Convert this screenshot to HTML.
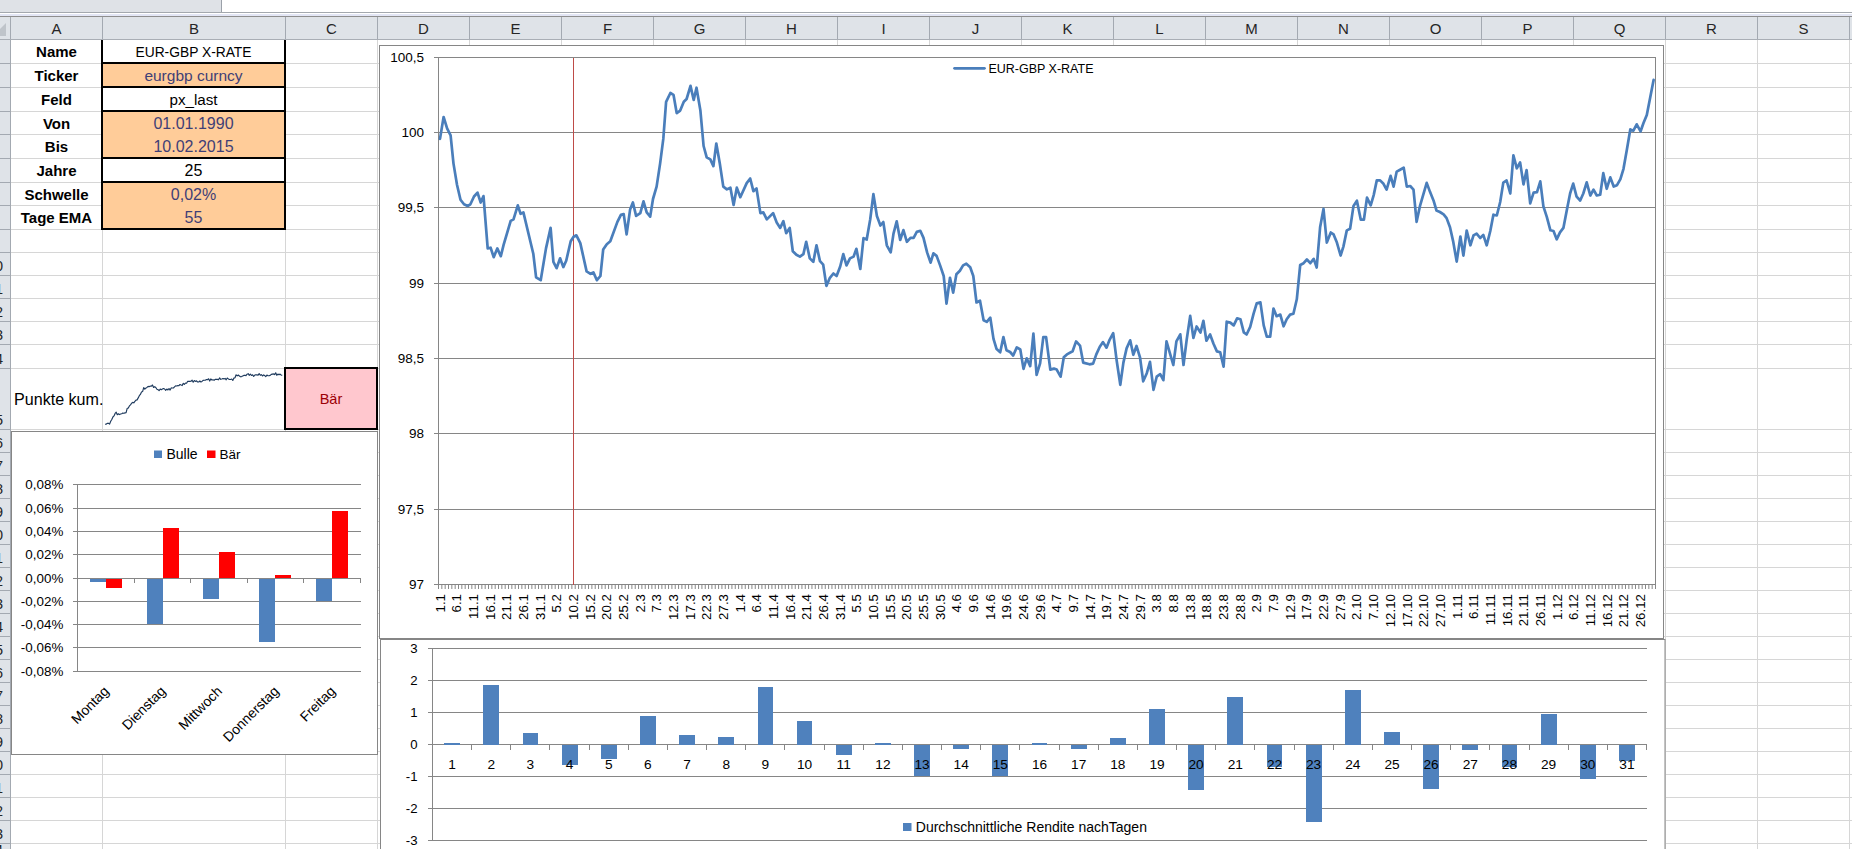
<!DOCTYPE html>
<html><head><meta charset="utf-8"><title>EUR-GBP X-RATE</title>
<style>
html,body{margin:0;padding:0;background:#fff;}
body{width:1852px;height:849px;overflow:hidden;position:relative;font-family:"Liberation Sans",sans-serif;color:#000;}
.abs{position:absolute;}
.hl{position:absolute;left:10px;width:1842px;height:1px;background:#d6d6d6;}
.vl{position:absolute;top:40px;width:1px;height:809px;background:#d6d6d6;}
.ch{position:absolute;top:17px;height:22px;line-height:24px;text-align:center;font-size:15px;color:#262626;border-right:1px solid #a3a9b1;box-sizing:border-box;}
.rh{position:absolute;left:0;width:10px;overflow:hidden;border-bottom:1px solid #a3a9b1;box-sizing:border-box;background:#dfe3e8;}
.rh span{position:absolute;right:7px;bottom:0px;font-size:14.5px;line-height:17px;color:#262626;white-space:nowrap;}
.lab{position:absolute;left:11px;width:91px;text-align:center;font-weight:bold;font-size:15px;white-space:nowrap;}
.val{position:absolute;left:103px;width:181px;text-align:center;white-space:nowrap;}
.inp{background:#ffcc99;color:#3f3f76;}
svg text{font-family:"Liberation Sans",sans-serif;}
</style></head><body>

<div class="abs" style="left:0;top:0;width:221px;height:12px;background:#dfe2e7"></div>
<div class="abs" style="left:221px;top:0;width:1px;height:12px;background:#9ba1a9"></div>
<div class="abs" style="left:0;top:12px;width:1852px;height:1px;background:#a3a8ae"></div>
<div class="abs" style="left:0;top:14px;width:1852px;height:2px;background:#e3e6f5"></div>
<div class="abs" style="left:0;top:16px;width:1852px;height:1px;background:#8e8e8e"></div>
<div class="abs" style="left:0;top:17px;width:1852px;height:22px;background:#dfe3e8"></div>
<div class="abs" style="left:0;top:39px;width:1852px;height:1px;background:#a9aeb5"></div>
<div class="ch" style="left:0;width:11px;"></div>
<svg class="abs" style="left:0;top:17px" width="10" height="22"><path d="M6 6 L6 19 L-7 19 Z" fill="#bfc4ca"/></svg>
<div class="ch" style="left:11px;width:92px;">A</div>
<div class="ch" style="left:103px;width:183px;">B</div>
<div class="ch" style="left:286px;width:92px;">C</div>
<div class="ch" style="left:378px;width:92px;">D</div>
<div class="ch" style="left:470px;width:92px;">E</div>
<div class="ch" style="left:562px;width:92px;">F</div>
<div class="ch" style="left:654px;width:92px;">G</div>
<div class="ch" style="left:746px;width:92px;">H</div>
<div class="ch" style="left:838px;width:92px;">I</div>
<div class="ch" style="left:930px;width:92px;">J</div>
<div class="ch" style="left:1022px;width:92px;">K</div>
<div class="ch" style="left:1114px;width:92px;">L</div>
<div class="ch" style="left:1206px;width:92px;">M</div>
<div class="ch" style="left:1298px;width:92px;">N</div>
<div class="ch" style="left:1390px;width:92px;">O</div>
<div class="ch" style="left:1482px;width:92px;">P</div>
<div class="ch" style="left:1574px;width:92px;">Q</div>
<div class="ch" style="left:1666px;width:92px;">R</div>
<div class="ch" style="left:1758px;width:92px;">S</div>
<div class="hl" style="top:63px"></div>
<div class="hl" style="top:87px"></div>
<div class="hl" style="top:111px"></div>
<div class="hl" style="top:134px"></div>
<div class="hl" style="top:158px"></div>
<div class="hl" style="top:182px"></div>
<div class="hl" style="top:205px"></div>
<div class="hl" style="top:229px"></div>
<div class="hl" style="top:252px"></div>
<div class="hl" style="top:275px"></div>
<div class="hl" style="top:298px"></div>
<div class="hl" style="top:321px"></div>
<div class="hl" style="top:344px"></div>
<div class="hl" style="top:368px"></div>
<div class="hl" style="top:429px"></div>
<div class="hl" style="top:452px"></div>
<div class="hl" style="top:475px"></div>
<div class="hl" style="top:498px"></div>
<div class="hl" style="top:521px"></div>
<div class="hl" style="top:544px"></div>
<div class="hl" style="top:567px"></div>
<div class="hl" style="top:590px"></div>
<div class="hl" style="top:613px"></div>
<div class="hl" style="top:636px"></div>
<div class="hl" style="top:659px"></div>
<div class="hl" style="top:682px"></div>
<div class="hl" style="top:705px"></div>
<div class="hl" style="top:728px"></div>
<div class="hl" style="top:751px"></div>
<div class="hl" style="top:774px"></div>
<div class="hl" style="top:797px"></div>
<div class="hl" style="top:820px"></div>
<div class="hl" style="top:843px"></div>
<div class="vl" style="left:102px"></div>
<div class="vl" style="left:285px"></div>
<div class="vl" style="left:377px"></div>
<div class="vl" style="left:469px"></div>
<div class="vl" style="left:561px"></div>
<div class="vl" style="left:653px"></div>
<div class="vl" style="left:745px"></div>
<div class="vl" style="left:837px"></div>
<div class="vl" style="left:929px"></div>
<div class="vl" style="left:1021px"></div>
<div class="vl" style="left:1113px"></div>
<div class="vl" style="left:1205px"></div>
<div class="vl" style="left:1297px"></div>
<div class="vl" style="left:1389px"></div>
<div class="vl" style="left:1481px"></div>
<div class="vl" style="left:1573px"></div>
<div class="vl" style="left:1665px"></div>
<div class="vl" style="left:1757px"></div>
<div class="vl" style="left:1849px"></div>
<div class="rh" style="top:40px;height:24px"><span></span></div>
<div class="rh" style="top:64px;height:24px"><span></span></div>
<div class="rh" style="top:88px;height:24px"><span></span></div>
<div class="rh" style="top:112px;height:23px"><span></span></div>
<div class="rh" style="top:135px;height:24px"><span></span></div>
<div class="rh" style="top:159px;height:24px"><span></span></div>
<div class="rh" style="top:183px;height:23px"><span></span></div>
<div class="rh" style="top:206px;height:24px"><span></span></div>
<div class="rh" style="top:230px;height:23px"><span></span></div>
<div class="rh" style="top:253px;height:23px"><span>10</span></div>
<div class="rh" style="top:276px;height:23px"><span>11</span></div>
<div class="rh" style="top:299px;height:23px"><span>12</span></div>
<div class="rh" style="top:322px;height:23px"><span>13</span></div>
<div class="rh" style="top:345px;height:24px"><span>14</span></div>
<div class="rh" style="top:369px;height:61px"><span>15</span></div>
<div class="rh" style="top:430px;height:23px"><span>16</span></div>
<div class="rh" style="top:453px;height:23px"><span>17</span></div>
<div class="rh" style="top:476px;height:23px"><span>18</span></div>
<div class="rh" style="top:499px;height:23px"><span>19</span></div>
<div class="rh" style="top:522px;height:23px"><span>20</span></div>
<div class="rh" style="top:545px;height:23px"><span>21</span></div>
<div class="rh" style="top:568px;height:23px"><span>22</span></div>
<div class="rh" style="top:591px;height:23px"><span>23</span></div>
<div class="rh" style="top:614px;height:23px"><span>24</span></div>
<div class="rh" style="top:637px;height:23px"><span>25</span></div>
<div class="rh" style="top:660px;height:23px"><span>26</span></div>
<div class="rh" style="top:683px;height:23px"><span>27</span></div>
<div class="rh" style="top:706px;height:23px"><span>28</span></div>
<div class="rh" style="top:729px;height:23px"><span>29</span></div>
<div class="rh" style="top:752px;height:23px"><span>30</span></div>
<div class="rh" style="top:775px;height:23px"><span>31</span></div>
<div class="rh" style="top:798px;height:23px"><span>32</span></div>
<div class="rh" style="top:821px;height:23px"><span>33</span></div>
<div class="rh" style="top:844px;height:16px"><span>34</span></div>
<div class="abs" style="left:10px;top:40px;width:1px;height:809px;background:#a3a9b1"></div>
<div class="lab" style="top:40px;height:23px;line-height:24px">Name</div>
<div class="lab" style="top:64px;height:23px;line-height:24px">Ticker</div>
<div class="lab" style="top:88px;height:23px;line-height:24px">Feld</div>
<div class="lab" style="top:112px;height:22px;line-height:23px">Von</div>
<div class="lab" style="top:135px;height:23px;line-height:24px">Bis</div>
<div class="lab" style="top:159px;height:23px;line-height:24px">Jahre</div>
<div class="lab" style="top:183px;height:22px;line-height:23px">Schwelle</div>
<div class="lab" style="top:206px;height:23px;line-height:24px">Tage EMA</div>
<div class="val" style="top:40px;height:24px;line-height:25px;font-size:13.8px">EUR-GBP X-RATE</div>
<div class="val inp" style="top:64px;height:24px;line-height:24px;font-size:15.5px">eurgbp curncy</div>
<div class="val" style="top:88px;height:24px;line-height:24px;font-size:15.2px">px_last</div>
<div class="val inp" style="top:112px;height:23px;line-height:23px;font-size:16px">01.01.1990</div>
<div class="val inp" style="top:135px;height:24px;line-height:24px;font-size:16px">10.02.2015</div>
<div class="val" style="top:159px;height:24px;line-height:24px;font-size:16px">25</div>
<div class="val inp" style="top:183px;height:23px;line-height:23px;font-size:16px">0,02%</div>
<div class="val inp" style="top:206px;height:24px;line-height:24px;font-size:16px">55</div>
<div class="abs" style="left:101px;top:40px;width:2px;height:190px;background:#000"></div>
<div class="abs" style="left:284px;top:40px;width:2px;height:190px;background:#000"></div>
<div class="abs" style="left:101px;top:62px;width:185px;height:2px;background:#000"></div>
<div class="abs" style="left:101px;top:86px;width:185px;height:2px;background:#000"></div>
<div class="abs" style="left:101px;top:110px;width:185px;height:2px;background:#000"></div>
<div class="abs" style="left:101px;top:157px;width:185px;height:2px;background:#000"></div>
<div class="abs" style="left:101px;top:181px;width:185px;height:2px;background:#000"></div>
<div class="abs" style="left:101px;top:228px;width:185px;height:2px;background:#000"></div>
<div class="abs" style="left:14px;top:369px;height:60px;line-height:61px;font-size:16.1px;white-space:nowrap">Punkte kum.</div>
<div class="abs" style="left:284px;top:367px;width:94px;height:63px;box-sizing:border-box;border:2px solid #000;background:#ffc7ce;color:#9c0006;text-align:center;line-height:60px;font-size:14.5px">B&auml;r</div>
<svg class="abs" style="left:0;top:0" width="1852" height="849" viewBox="0 0 1852 849">
<polyline points="105.2,424.4 106.3,424.1 107.4,423.3 108.5,423.3 109.6,424.1 110.7,421.3 111.8,419.5 112.9,417.0 114.0,415.9 115.1,413.4 116.2,412.2 117.3,414.7 118.4,413.8 119.5,414.6 120.6,414.0 121.7,413.8 122.8,413.1 123.9,413.3 125.0,412.9 126.1,412.6 127.2,408.3 128.3,408.1 129.4,405.9 130.5,404.9 131.6,403.2 132.7,402.4 133.8,402.8 134.9,401.3 136.0,400.1 137.1,399.9 138.2,397.9 139.3,395.7 140.4,394.4 141.5,392.1 142.6,391.6 143.7,387.6 144.8,389.2 145.9,388.1 147.0,387.4 148.1,386.4 149.2,386.7 150.3,386.1 151.4,386.2 152.5,385.0 153.6,387.4 154.7,386.7 155.8,387.5 156.9,389.2 158.0,389.6 159.1,390.7 160.2,389.0 161.3,389.7 162.4,389.0 163.5,388.5 164.6,389.0 165.7,390.3 166.8,389.0 167.9,390.0 169.0,388.5 170.1,390.1 171.2,387.9 172.3,388.0 173.4,388.0 174.5,386.9 175.6,385.8 176.7,386.0 177.8,385.6 178.9,385.7 180.0,384.5 181.1,385.1 182.2,385.6 183.3,383.3 184.4,384.4 185.5,383.0 186.6,383.2 187.7,381.3 188.8,381.3 189.9,381.4 191.0,381.2 192.1,380.2 193.2,382.2 194.3,380.5 195.4,381.4 196.5,380.8 197.6,382.0 198.7,382.0 199.8,381.0 200.9,382.0 202.0,381.4 203.1,380.4 204.2,380.2 205.3,380.2 206.4,379.6 207.5,379.7 208.6,378.8 209.7,381.1 210.8,378.9 211.9,380.0 213.0,379.8 214.1,380.3 215.2,379.4 216.3,379.3 217.4,379.4 218.5,379.8 219.6,377.9 220.7,379.3 221.8,379.0 222.9,378.5 224.0,378.9 225.1,378.4 226.2,379.8 227.3,378.0 228.4,378.9 229.5,379.5 230.6,379.5 231.7,379.0 232.8,380.5 233.9,378.1 235.0,377.7 236.1,374.8 237.2,375.9 238.3,375.0 239.4,376.0 240.5,376.8 241.6,376.6 242.7,376.0 243.8,375.4 244.9,375.2 246.0,375.6 247.1,374.2 248.2,373.7 249.3,375.3 250.4,374.1 251.5,375.5 252.6,374.8 253.7,376.5 254.8,375.0 255.9,374.7 257.0,374.9 258.1,375.2 259.2,373.6 260.3,375.3 261.4,374.7 262.5,376.0 263.6,374.9 264.7,375.6 265.8,376.6 266.9,375.0 268.0,375.7 269.1,375.7 270.2,375.4 271.3,374.4 272.4,374.1 273.5,373.9 274.6,374.6 275.7,372.8 276.8,375.3 277.9,374.0 279.0,374.8 280.1,374.1 281.2,375.2 282.3,375.3" fill="none" stroke="#1f3b5e" stroke-width="1.15" stroke-linejoin="round"/>
<rect x="379.5" y="45.5" width="1284" height="593" fill="#fff" stroke="#868686" stroke-width="1"/>
<g stroke="#868686" stroke-width="1" shape-rendering="crispEdges">
<line x1="433.5" y1="57.5" x2="1655.5" y2="57.5"/>
<line x1="433.5" y1="132.5" x2="1655.5" y2="132.5"/>
<line x1="433.5" y1="207.5" x2="1655.5" y2="207.5"/>
<line x1="433.5" y1="283.5" x2="1655.5" y2="283.5"/>
<line x1="433.5" y1="358.5" x2="1655.5" y2="358.5"/>
<line x1="433.5" y1="433.5" x2="1655.5" y2="433.5"/>
<line x1="433.5" y1="509.5" x2="1655.5" y2="509.5"/>
<line x1="433.5" y1="584.5" x2="1655.5" y2="584.5"/>
<line x1="438.5" y1="57.5" x2="438.5" y2="584.5"/>
<line x1="1655.5" y1="57.5" x2="1655.5" y2="584.5"/>
</g>
<path d="M438.50 584.5v4.5M441.83 584.5v4.5M445.17 584.5v4.5M448.50 584.5v4.5M451.84 584.5v4.5M455.17 584.5v4.5M458.51 584.5v4.5M461.84 584.5v4.5M465.17 584.5v4.5M468.51 584.5v4.5M471.84 584.5v4.5M475.18 584.5v4.5M478.51 584.5v4.5M481.85 584.5v4.5M485.18 584.5v4.5M488.51 584.5v4.5M491.85 584.5v4.5M495.18 584.5v4.5M498.52 584.5v4.5M501.85 584.5v4.5M505.18 584.5v4.5M508.52 584.5v4.5M511.85 584.5v4.5M515.19 584.5v4.5M518.52 584.5v4.5M521.86 584.5v4.5M525.19 584.5v4.5M528.52 584.5v4.5M531.86 584.5v4.5M535.19 584.5v4.5M538.53 584.5v4.5M541.86 584.5v4.5M545.20 584.5v4.5M548.53 584.5v4.5M551.86 584.5v4.5M555.20 584.5v4.5M558.53 584.5v4.5M561.87 584.5v4.5M565.20 584.5v4.5M568.54 584.5v4.5M571.87 584.5v4.5M575.20 584.5v4.5M578.54 584.5v4.5M581.87 584.5v4.5M585.21 584.5v4.5M588.54 584.5v4.5M591.88 584.5v4.5M595.21 584.5v4.5M598.54 584.5v4.5M601.88 584.5v4.5M605.21 584.5v4.5M608.55 584.5v4.5M611.88 584.5v4.5M615.22 584.5v4.5M618.55 584.5v4.5M621.88 584.5v4.5M625.22 584.5v4.5M628.55 584.5v4.5M631.89 584.5v4.5M635.22 584.5v4.5M638.55 584.5v4.5M641.89 584.5v4.5M645.22 584.5v4.5M648.56 584.5v4.5M651.89 584.5v4.5M655.23 584.5v4.5M658.56 584.5v4.5M661.89 584.5v4.5M665.23 584.5v4.5M668.56 584.5v4.5M671.90 584.5v4.5M675.23 584.5v4.5M678.57 584.5v4.5M681.90 584.5v4.5M685.23 584.5v4.5M688.57 584.5v4.5M691.90 584.5v4.5M695.24 584.5v4.5M698.57 584.5v4.5M701.91 584.5v4.5M705.24 584.5v4.5M708.57 584.5v4.5M711.91 584.5v4.5M715.24 584.5v4.5M718.58 584.5v4.5M721.91 584.5v4.5M725.25 584.5v4.5M728.58 584.5v4.5M731.91 584.5v4.5M735.25 584.5v4.5M738.58 584.5v4.5M741.92 584.5v4.5M745.25 584.5v4.5M748.58 584.5v4.5M751.92 584.5v4.5M755.25 584.5v4.5M758.59 584.5v4.5M761.92 584.5v4.5M765.26 584.5v4.5M768.59 584.5v4.5M771.92 584.5v4.5M775.26 584.5v4.5M778.59 584.5v4.5M781.93 584.5v4.5M785.26 584.5v4.5M788.60 584.5v4.5M791.93 584.5v4.5M795.26 584.5v4.5M798.60 584.5v4.5M801.93 584.5v4.5M805.27 584.5v4.5M808.60 584.5v4.5M811.94 584.5v4.5M815.27 584.5v4.5M818.60 584.5v4.5M821.94 584.5v4.5M825.27 584.5v4.5M828.61 584.5v4.5M831.94 584.5v4.5M835.28 584.5v4.5M838.61 584.5v4.5M841.94 584.5v4.5M845.28 584.5v4.5M848.61 584.5v4.5M851.95 584.5v4.5M855.28 584.5v4.5M858.62 584.5v4.5M861.95 584.5v4.5M865.28 584.5v4.5M868.62 584.5v4.5M871.95 584.5v4.5M875.29 584.5v4.5M878.62 584.5v4.5M881.95 584.5v4.5M885.29 584.5v4.5M888.62 584.5v4.5M891.96 584.5v4.5M895.29 584.5v4.5M898.63 584.5v4.5M901.96 584.5v4.5M905.29 584.5v4.5M908.63 584.5v4.5M911.96 584.5v4.5M915.30 584.5v4.5M918.63 584.5v4.5M921.97 584.5v4.5M925.30 584.5v4.5M928.63 584.5v4.5M931.97 584.5v4.5M935.30 584.5v4.5M938.64 584.5v4.5M941.97 584.5v4.5M945.31 584.5v4.5M948.64 584.5v4.5M951.97 584.5v4.5M955.31 584.5v4.5M958.64 584.5v4.5M961.98 584.5v4.5M965.31 584.5v4.5M968.65 584.5v4.5M971.98 584.5v4.5M975.31 584.5v4.5M978.65 584.5v4.5M981.98 584.5v4.5M985.32 584.5v4.5M988.65 584.5v4.5M991.98 584.5v4.5M995.32 584.5v4.5M998.65 584.5v4.5M1001.99 584.5v4.5M1005.32 584.5v4.5M1008.66 584.5v4.5M1011.99 584.5v4.5M1015.32 584.5v4.5M1018.66 584.5v4.5M1021.99 584.5v4.5M1025.33 584.5v4.5M1028.66 584.5v4.5M1032.00 584.5v4.5M1035.33 584.5v4.5M1038.66 584.5v4.5M1042.00 584.5v4.5M1045.33 584.5v4.5M1048.67 584.5v4.5M1052.00 584.5v4.5M1055.34 584.5v4.5M1058.67 584.5v4.5M1062.00 584.5v4.5M1065.34 584.5v4.5M1068.67 584.5v4.5M1072.01 584.5v4.5M1075.34 584.5v4.5M1078.68 584.5v4.5M1082.01 584.5v4.5M1085.34 584.5v4.5M1088.68 584.5v4.5M1092.01 584.5v4.5M1095.35 584.5v4.5M1098.68 584.5v4.5M1102.02 584.5v4.5M1105.35 584.5v4.5M1108.68 584.5v4.5M1112.02 584.5v4.5M1115.35 584.5v4.5M1118.69 584.5v4.5M1122.02 584.5v4.5M1125.35 584.5v4.5M1128.69 584.5v4.5M1132.02 584.5v4.5M1135.36 584.5v4.5M1138.69 584.5v4.5M1142.03 584.5v4.5M1145.36 584.5v4.5M1148.69 584.5v4.5M1152.03 584.5v4.5M1155.36 584.5v4.5M1158.70 584.5v4.5M1162.03 584.5v4.5M1165.37 584.5v4.5M1168.70 584.5v4.5M1172.03 584.5v4.5M1175.37 584.5v4.5M1178.70 584.5v4.5M1182.04 584.5v4.5M1185.37 584.5v4.5M1188.71 584.5v4.5M1192.04 584.5v4.5M1195.37 584.5v4.5M1198.71 584.5v4.5M1202.04 584.5v4.5M1205.38 584.5v4.5M1208.71 584.5v4.5M1212.05 584.5v4.5M1215.38 584.5v4.5M1218.71 584.5v4.5M1222.05 584.5v4.5M1225.38 584.5v4.5M1228.72 584.5v4.5M1232.05 584.5v4.5M1235.38 584.5v4.5M1238.72 584.5v4.5M1242.05 584.5v4.5M1245.39 584.5v4.5M1248.72 584.5v4.5M1252.06 584.5v4.5M1255.39 584.5v4.5M1258.72 584.5v4.5M1262.06 584.5v4.5M1265.39 584.5v4.5M1268.73 584.5v4.5M1272.06 584.5v4.5M1275.40 584.5v4.5M1278.73 584.5v4.5M1282.06 584.5v4.5M1285.40 584.5v4.5M1288.73 584.5v4.5M1292.07 584.5v4.5M1295.40 584.5v4.5M1298.74 584.5v4.5M1302.07 584.5v4.5M1305.40 584.5v4.5M1308.74 584.5v4.5M1312.07 584.5v4.5M1315.41 584.5v4.5M1318.74 584.5v4.5M1322.08 584.5v4.5M1325.41 584.5v4.5M1328.74 584.5v4.5M1332.08 584.5v4.5M1335.41 584.5v4.5M1338.75 584.5v4.5M1342.08 584.5v4.5M1345.42 584.5v4.5M1348.75 584.5v4.5M1352.08 584.5v4.5M1355.42 584.5v4.5M1358.75 584.5v4.5M1362.09 584.5v4.5M1365.42 584.5v4.5M1368.75 584.5v4.5M1372.09 584.5v4.5M1375.42 584.5v4.5M1378.76 584.5v4.5M1382.09 584.5v4.5M1385.43 584.5v4.5M1388.76 584.5v4.5M1392.09 584.5v4.5M1395.43 584.5v4.5M1398.76 584.5v4.5M1402.10 584.5v4.5M1405.43 584.5v4.5M1408.77 584.5v4.5M1412.10 584.5v4.5M1415.43 584.5v4.5M1418.77 584.5v4.5M1422.10 584.5v4.5M1425.44 584.5v4.5M1428.77 584.5v4.5M1432.11 584.5v4.5M1435.44 584.5v4.5M1438.77 584.5v4.5M1442.11 584.5v4.5M1445.44 584.5v4.5M1448.78 584.5v4.5M1452.11 584.5v4.5M1455.45 584.5v4.5M1458.78 584.5v4.5M1462.11 584.5v4.5M1465.45 584.5v4.5M1468.78 584.5v4.5M1472.12 584.5v4.5M1475.45 584.5v4.5M1478.78 584.5v4.5M1482.12 584.5v4.5M1485.45 584.5v4.5M1488.79 584.5v4.5M1492.12 584.5v4.5M1495.46 584.5v4.5M1498.79 584.5v4.5M1502.12 584.5v4.5M1505.46 584.5v4.5M1508.79 584.5v4.5M1512.13 584.5v4.5M1515.46 584.5v4.5M1518.80 584.5v4.5M1522.13 584.5v4.5M1525.46 584.5v4.5M1528.80 584.5v4.5M1532.13 584.5v4.5M1535.47 584.5v4.5M1538.80 584.5v4.5M1542.14 584.5v4.5M1545.47 584.5v4.5M1548.80 584.5v4.5M1552.14 584.5v4.5M1555.47 584.5v4.5M1558.81 584.5v4.5M1562.14 584.5v4.5M1565.48 584.5v4.5M1568.81 584.5v4.5M1572.14 584.5v4.5M1575.48 584.5v4.5M1578.81 584.5v4.5M1582.15 584.5v4.5M1585.48 584.5v4.5M1588.82 584.5v4.5M1592.15 584.5v4.5M1595.48 584.5v4.5M1598.82 584.5v4.5M1602.15 584.5v4.5M1605.49 584.5v4.5M1608.82 584.5v4.5M1612.15 584.5v4.5M1615.49 584.5v4.5M1618.82 584.5v4.5M1622.16 584.5v4.5M1625.49 584.5v4.5M1628.83 584.5v4.5M1632.16 584.5v4.5M1635.49 584.5v4.5M1638.83 584.5v4.5M1642.16 584.5v4.5M1645.50 584.5v4.5M1648.83 584.5v4.5M1652.17 584.5v4.5M1655.50 584.5v4.5" stroke="#868686" stroke-width="1" fill="none"/>
<text x="424" y="62.1" font-size="13.5" text-anchor="end">100,5</text>
<text x="424" y="137.1" font-size="13.5" text-anchor="end">100</text>
<text x="424" y="212.1" font-size="13.5" text-anchor="end">99,5</text>
<text x="424" y="288.1" font-size="13.5" text-anchor="end">99</text>
<text x="424" y="363.1" font-size="13.5" text-anchor="end">98,5</text>
<text x="424" y="438.1" font-size="13.5" text-anchor="end">98</text>
<text x="424" y="514.1" font-size="13.5" text-anchor="end">97,5</text>
<text x="424" y="589.1" font-size="13.5" text-anchor="end">97</text>
<line x1="573.5" y1="57.5" x2="573.5" y2="584.5" stroke="#be4b48" stroke-width="1" shape-rendering="crispEdges"/>
<text transform="translate(444.57,594) rotate(-90)" font-size="13.3" text-anchor="end">1.1</text>
<text transform="translate(461.24,594) rotate(-90)" font-size="13.3" text-anchor="end">6.1</text>
<text transform="translate(477.91,594) rotate(-90)" font-size="13.3" text-anchor="end">11.1</text>
<text transform="translate(494.58,594) rotate(-90)" font-size="13.3" text-anchor="end">16.1</text>
<text transform="translate(511.25,594) rotate(-90)" font-size="13.3" text-anchor="end">21.1</text>
<text transform="translate(527.92,594) rotate(-90)" font-size="13.3" text-anchor="end">26.1</text>
<text transform="translate(544.59,594) rotate(-90)" font-size="13.3" text-anchor="end">31.1</text>
<text transform="translate(561.27,594) rotate(-90)" font-size="13.3" text-anchor="end">5.2</text>
<text transform="translate(577.94,594) rotate(-90)" font-size="13.3" text-anchor="end">10.2</text>
<text transform="translate(594.61,594) rotate(-90)" font-size="13.3" text-anchor="end">15.2</text>
<text transform="translate(611.28,594) rotate(-90)" font-size="13.3" text-anchor="end">20.2</text>
<text transform="translate(627.95,594) rotate(-90)" font-size="13.3" text-anchor="end">25.2</text>
<text transform="translate(644.62,594) rotate(-90)" font-size="13.3" text-anchor="end">2.3</text>
<text transform="translate(661.29,594) rotate(-90)" font-size="13.3" text-anchor="end">7.3</text>
<text transform="translate(677.96,594) rotate(-90)" font-size="13.3" text-anchor="end">12.3</text>
<text transform="translate(694.64,594) rotate(-90)" font-size="13.3" text-anchor="end">17.3</text>
<text transform="translate(711.31,594) rotate(-90)" font-size="13.3" text-anchor="end">22.3</text>
<text transform="translate(727.98,594) rotate(-90)" font-size="13.3" text-anchor="end">27.3</text>
<text transform="translate(744.65,594) rotate(-90)" font-size="13.3" text-anchor="end">1.4</text>
<text transform="translate(761.32,594) rotate(-90)" font-size="13.3" text-anchor="end">6.4</text>
<text transform="translate(777.99,594) rotate(-90)" font-size="13.3" text-anchor="end">11.4</text>
<text transform="translate(794.66,594) rotate(-90)" font-size="13.3" text-anchor="end">16.4</text>
<text transform="translate(811.33,594) rotate(-90)" font-size="13.3" text-anchor="end">21.4</text>
<text transform="translate(828.01,594) rotate(-90)" font-size="13.3" text-anchor="end">26.4</text>
<text transform="translate(844.68,594) rotate(-90)" font-size="13.3" text-anchor="end">31.4</text>
<text transform="translate(861.35,594) rotate(-90)" font-size="13.3" text-anchor="end">5.5</text>
<text transform="translate(878.02,594) rotate(-90)" font-size="13.3" text-anchor="end">10.5</text>
<text transform="translate(894.69,594) rotate(-90)" font-size="13.3" text-anchor="end">15.5</text>
<text transform="translate(911.36,594) rotate(-90)" font-size="13.3" text-anchor="end">20.5</text>
<text transform="translate(928.03,594) rotate(-90)" font-size="13.3" text-anchor="end">25.5</text>
<text transform="translate(944.70,594) rotate(-90)" font-size="13.3" text-anchor="end">30.5</text>
<text transform="translate(961.38,594) rotate(-90)" font-size="13.3" text-anchor="end">4.6</text>
<text transform="translate(978.05,594) rotate(-90)" font-size="13.3" text-anchor="end">9.6</text>
<text transform="translate(994.72,594) rotate(-90)" font-size="13.3" text-anchor="end">14.6</text>
<text transform="translate(1011.39,594) rotate(-90)" font-size="13.3" text-anchor="end">19.6</text>
<text transform="translate(1028.06,594) rotate(-90)" font-size="13.3" text-anchor="end">24.6</text>
<text transform="translate(1044.73,594) rotate(-90)" font-size="13.3" text-anchor="end">29.6</text>
<text transform="translate(1061.40,594) rotate(-90)" font-size="13.3" text-anchor="end">4.7</text>
<text transform="translate(1078.07,594) rotate(-90)" font-size="13.3" text-anchor="end">9.7</text>
<text transform="translate(1094.75,594) rotate(-90)" font-size="13.3" text-anchor="end">14.7</text>
<text transform="translate(1111.42,594) rotate(-90)" font-size="13.3" text-anchor="end">19.7</text>
<text transform="translate(1128.09,594) rotate(-90)" font-size="13.3" text-anchor="end">24.7</text>
<text transform="translate(1144.76,594) rotate(-90)" font-size="13.3" text-anchor="end">29.7</text>
<text transform="translate(1161.43,594) rotate(-90)" font-size="13.3" text-anchor="end">3.8</text>
<text transform="translate(1178.10,594) rotate(-90)" font-size="13.3" text-anchor="end">8.8</text>
<text transform="translate(1194.77,594) rotate(-90)" font-size="13.3" text-anchor="end">13.8</text>
<text transform="translate(1211.44,594) rotate(-90)" font-size="13.3" text-anchor="end">18.8</text>
<text transform="translate(1228.12,594) rotate(-90)" font-size="13.3" text-anchor="end">23.8</text>
<text transform="translate(1244.79,594) rotate(-90)" font-size="13.3" text-anchor="end">28.8</text>
<text transform="translate(1261.46,594) rotate(-90)" font-size="13.3" text-anchor="end">2.9</text>
<text transform="translate(1278.13,594) rotate(-90)" font-size="13.3" text-anchor="end">7.9</text>
<text transform="translate(1294.80,594) rotate(-90)" font-size="13.3" text-anchor="end">12.9</text>
<text transform="translate(1311.47,594) rotate(-90)" font-size="13.3" text-anchor="end">17.9</text>
<text transform="translate(1328.14,594) rotate(-90)" font-size="13.3" text-anchor="end">22.9</text>
<text transform="translate(1344.81,594) rotate(-90)" font-size="13.3" text-anchor="end">27.9</text>
<text transform="translate(1361.48,594) rotate(-90)" font-size="13.3" text-anchor="end">2.10</text>
<text transform="translate(1378.16,594) rotate(-90)" font-size="13.3" text-anchor="end">7.10</text>
<text transform="translate(1394.83,594) rotate(-90)" font-size="13.3" text-anchor="end">12.10</text>
<text transform="translate(1411.50,594) rotate(-90)" font-size="13.3" text-anchor="end">17.10</text>
<text transform="translate(1428.17,594) rotate(-90)" font-size="13.3" text-anchor="end">22.10</text>
<text transform="translate(1444.84,594) rotate(-90)" font-size="13.3" text-anchor="end">27.10</text>
<text transform="translate(1461.51,594) rotate(-90)" font-size="13.3" text-anchor="end">1.11</text>
<text transform="translate(1478.18,594) rotate(-90)" font-size="13.3" text-anchor="end">6.11</text>
<text transform="translate(1494.85,594) rotate(-90)" font-size="13.3" text-anchor="end">11.11</text>
<text transform="translate(1511.53,594) rotate(-90)" font-size="13.3" text-anchor="end">16.11</text>
<text transform="translate(1528.20,594) rotate(-90)" font-size="13.3" text-anchor="end">21.11</text>
<text transform="translate(1544.87,594) rotate(-90)" font-size="13.3" text-anchor="end">26.11</text>
<text transform="translate(1561.54,594) rotate(-90)" font-size="13.3" text-anchor="end">1.12</text>
<text transform="translate(1578.21,594) rotate(-90)" font-size="13.3" text-anchor="end">6.12</text>
<text transform="translate(1594.88,594) rotate(-90)" font-size="13.3" text-anchor="end">11.12</text>
<text transform="translate(1611.55,594) rotate(-90)" font-size="13.3" text-anchor="end">16.12</text>
<text transform="translate(1628.22,594) rotate(-90)" font-size="13.3" text-anchor="end">21.12</text>
<text transform="translate(1644.90,594) rotate(-90)" font-size="13.3" text-anchor="end">26.12</text>
<polyline points="440.0,138.9 443.6,117 447.1,128.3 450.6,135.4 453.5,163.6 457,184.8 460.5,199.7 464,204.3 467.6,206 470.4,204.3 474,196.5 477.5,192.6 480.7,202.5 483.5,196.1 487.7,248.4 490.6,247.7 493.7,257.2 497.3,248.4 500.8,256.2 503.6,244.9 510.7,220.9 513.5,219.4 517.8,205.3 520.6,213.8 523.4,212.4 533.3,253.7 536.1,277.4 540.7,280.2 546,248.4 550.6,227.9 553.4,261.8 556.6,268.2 560.1,258.3 563.3,267.1 566.2,260.8 570.7,241.3 573.6,236.7 576.4,235.3 580.3,243.1 586.6,271.4 590.5,273.8 593.4,272.4 596.9,280.2 600.4,276 603.2,249.5 606.8,244.2 610.3,241.3 617.4,221.9 620.9,214.8 623.7,214.1 626.6,234.3 630.1,209.6 632.9,202.5 636.1,215.9 640.3,213.1 643.5,201.4 646.7,212.4 650.2,216.6 653,199 656.6,186.6 660.1,163.6 663.3,138.9 666.1,101.8 670.4,93 673.5,94.8 676.7,113.1 680.2,110.6 683.8,101.8 686.6,99 690.5,85.9 693.7,100 696.5,87.7 700.4,110.6 703.6,146 706.7,157.3 710.3,159.4 713.4,166.1 716.3,143.5 719.8,163.6 723.3,186.6 726.9,189.4 730.4,187.7 733.6,205 736.8,187.7 740.3,197.2 746.7,183.1 750.2,178.5 753.4,191.2 756.5,188.4 760.4,213.1 763.3,212.4 766.8,219.4 773.1,213.1 776.7,222.6 780.2,227.9 783.4,221.2 786.2,233.2 789.7,227.9 792.8,251.3 796.4,254.8 799.9,256.6 803.4,254.1 806.2,241.8 809.8,258.4 813.3,261.9 816.5,245.3 820,261.2 823.2,264.7 826.4,285.9 829.9,277.8 833.4,273.5 836.6,276 840.2,266.5 843.3,254.1 846.5,265.4 850,258.4 853.6,256.6 856.4,248.8 860.3,269 863.5,238.2 866.7,239.6 870.2,219.5 873.4,194.1 876.9,216 880.4,225.5 883.3,222 886.8,245.3 890.7,252.4 893.5,233.6 896.7,221.3 900.2,240 903.4,230.1 906.9,241.8 910.5,237.9 913.6,237.9 916.8,231.9 920.3,230.8 923.5,237.9 927.1,252.4 930.6,262.6 933.4,253.4 936.6,255.9 940.1,265.4 943.7,276 946.5,303.6 950,277.8 953.2,292.6 956.4,274.3 959.9,270.7 963.1,265.4 966.3,263.7 970.2,267.2 973.3,276 976.5,302.5 980,300.7 983.6,320.2 986.8,321.9 990.3,317.7 993.5,338.9 996.6,349.1 1000.2,352.3 1003.4,337.1 1006.5,350.2 1010.1,352 1013.2,355.5 1016.8,347.4 1020.3,349.5 1023.5,368.9 1026.7,358.3 1030.2,366.1 1033.4,333.6 1036.6,374.9 1040.1,363.3 1043.3,337.1 1046.1,337.1 1050.3,369.6 1053.9,368.6 1056.7,369.6 1060.6,376.7 1063.8,357.3 1066.9,354.4 1072.6,351.3 1076.1,341.4 1080,345.6 1083.2,362.6 1089.5,364.3 1093.1,363.6 1096.3,354.4 1099.8,346.7 1103,342.1 1106.5,347.7 1109.7,339.6 1113.2,333.2 1116.7,360.8 1120.3,384.8 1123.4,362.6 1126.6,348.4 1130.2,340.3 1133.3,354.8 1136.5,346 1140,357.3 1143.2,381.3 1146.8,373.2 1150,361.9 1153.5,389.8 1156.7,376.7 1160.2,374.2 1163.4,380.2 1166.5,341.4 1173.3,365 1176.4,341.4 1180.3,334.3 1183.5,365 1186.7,339.6 1190.2,315.9 1193.4,337.8 1196.6,326.5 1200.5,332.5 1203.4,320.8 1206.4,340.7 1210.1,334.5 1213.5,343.7 1216.9,351.4 1220.2,352.3 1223.6,366.7 1226.7,321.7 1230.3,322.6 1233.7,325.4 1237.1,318.3 1240.4,319.2 1243.8,332.4 1246.6,334.5 1250.2,326.9 1253.6,313.7 1256.7,303.3 1260.4,302.4 1263.7,325.4 1266.8,336.7 1270.2,336.7 1273.5,308.5 1276.6,316.2 1280.3,314.6 1283.6,326.3 1286.7,319.2 1290.1,314.6 1293.4,313.7 1296.8,299.3 1300.2,265 1303.6,263.2 1306.9,259.5 1310.3,263.2 1313.7,258.9 1316.7,267.5 1320.1,227.3 1323.5,208.9 1326.8,242.6 1330.8,232.5 1333.6,234.4 1336.9,242.6 1340.6,255.5 1343.4,246.6 1346.8,230.4 1350.1,228.8 1353.5,205.9 1356.9,200.7 1360.8,219.7 1363.9,219.7 1367,197.6 1370.7,205.3 1373.7,195.1 1376.8,180.4 1380.1,180.4 1383.5,183.8 1386.6,189.6 1390.6,175.8 1393.6,186.6 1396.7,171.6 1400.1,169.7 1403.7,167.6 1406.8,186.6 1410.2,186 1413.5,189.6 1416.6,221.8 1420,205.9 1426.7,182.9 1430.1,192.1 1433.5,200.4 1436.5,210.5 1439.9,212 1443.6,214.4 1446.6,218.1 1450,227.3 1453.1,241.1 1456.7,261.6 1460.4,236.5 1463.4,255.6 1466.7,230.5 1470.4,245.3 1473.5,235.4 1476.6,233.6 1480.2,238 1483.3,234.9 1486.7,245.3 1490.3,231 1493.4,214.7 1496.8,215.5 1500.2,202 1503.3,182.6 1506.6,180.5 1510.3,193.5 1513.4,155.4 1516.8,168.3 1520.1,162.4 1523.5,184.4 1526.6,170.1 1530.2,203.3 1533.6,192.7 1537,192.2 1540.3,181.3 1543.4,206.4 1546.8,216.8 1550.4,230.3 1553.5,231 1556.7,239.3 1560,232.3 1563.4,227.9 1566.8,210.3 1570.1,193.5 1573.2,183.6 1576.6,196.6 1580.2,200.5 1583.3,193.5 1586.7,182.3 1590.3,195.5 1593.5,189.6 1596.8,195.5 1600.2,194.8 1603.3,173.2 1606.7,188.8 1610.3,177.4 1613.7,186.5 1617,185.2 1620.4,179.2 1623.5,168.8 1626.9,149.4 1630.3,129.4 1633.4,130.7 1636.7,124.3 1640.6,131.3 1643.5,123 1646.8,114.9 1650.2,97.6 1653.6,79.9" fill="none" stroke="#4a7ebb" stroke-width="2.7" stroke-linejoin="round" stroke-linecap="round"/>
<line x1="954.5" y1="68.3" x2="984.5" y2="68.3" stroke="#4a7ebb" stroke-width="2.7" stroke-linecap="round"/>
<text x="988.4" y="72.6" font-size="12.5">EUR-GBP X-RATE</text>
<rect x="380.5" y="639.5" width="1284.5" height="230" fill="#fff" stroke="#868686" stroke-width="1"/>
<g stroke="#868686" stroke-width="1" shape-rendering="crispEdges">
<line x1="427.5" y1="648.5" x2="1646.5" y2="648.5"/>
<line x1="427.5" y1="680.5" x2="1646.5" y2="680.5"/>
<line x1="427.5" y1="712.5" x2="1646.5" y2="712.5"/>
<line x1="427.5" y1="744.5" x2="1646.5" y2="744.5"/>
<line x1="427.5" y1="776.5" x2="1646.5" y2="776.5"/>
<line x1="427.5" y1="808.5" x2="1646.5" y2="808.5"/>
<line x1="427.5" y1="840.5" x2="1646.5" y2="840.5"/>
<line x1="432.5" y1="648.5" x2="432.5" y2="840.5"/>
<line x1="471.5" y1="744.5" x2="471.5" y2="749.5"/>
<line x1="510.5" y1="744.5" x2="510.5" y2="749.5"/>
<line x1="549.5" y1="744.5" x2="549.5" y2="749.5"/>
<line x1="589.5" y1="744.5" x2="589.5" y2="749.5"/>
<line x1="628.5" y1="744.5" x2="628.5" y2="749.5"/>
<line x1="667.5" y1="744.5" x2="667.5" y2="749.5"/>
<line x1="706.5" y1="744.5" x2="706.5" y2="749.5"/>
<line x1="745.5" y1="744.5" x2="745.5" y2="749.5"/>
<line x1="784.5" y1="744.5" x2="784.5" y2="749.5"/>
<line x1="824.5" y1="744.5" x2="824.5" y2="749.5"/>
<line x1="863.5" y1="744.5" x2="863.5" y2="749.5"/>
<line x1="902.5" y1="744.5" x2="902.5" y2="749.5"/>
<line x1="941.5" y1="744.5" x2="941.5" y2="749.5"/>
<line x1="980.5" y1="744.5" x2="980.5" y2="749.5"/>
<line x1="1019.5" y1="744.5" x2="1019.5" y2="749.5"/>
<line x1="1059.5" y1="744.5" x2="1059.5" y2="749.5"/>
<line x1="1098.5" y1="744.5" x2="1098.5" y2="749.5"/>
<line x1="1137.5" y1="744.5" x2="1137.5" y2="749.5"/>
<line x1="1176.5" y1="744.5" x2="1176.5" y2="749.5"/>
<line x1="1215.5" y1="744.5" x2="1215.5" y2="749.5"/>
<line x1="1254.5" y1="744.5" x2="1254.5" y2="749.5"/>
<line x1="1294.5" y1="744.5" x2="1294.5" y2="749.5"/>
<line x1="1333.5" y1="744.5" x2="1333.5" y2="749.5"/>
<line x1="1372.5" y1="744.5" x2="1372.5" y2="749.5"/>
<line x1="1411.5" y1="744.5" x2="1411.5" y2="749.5"/>
<line x1="1450.5" y1="744.5" x2="1450.5" y2="749.5"/>
<line x1="1489.5" y1="744.5" x2="1489.5" y2="749.5"/>
<line x1="1529.5" y1="744.5" x2="1529.5" y2="749.5"/>
<line x1="1568.5" y1="744.5" x2="1568.5" y2="749.5"/>
<line x1="1607.5" y1="744.5" x2="1607.5" y2="749.5"/>
<line x1="1646.5" y1="744.5" x2="1646.5" y2="749.5"/>
</g>
<rect x="444.2" y="743.2" width="15.8" height="1.3" fill="#4f81bd" shape-rendering="crispEdges"/>
<rect x="483.3" y="685.3" width="15.8" height="59.2" fill="#4f81bd" shape-rendering="crispEdges"/>
<rect x="522.5" y="733.3" width="15.8" height="11.2" fill="#4f81bd" shape-rendering="crispEdges"/>
<rect x="561.7" y="744.5" width="15.8" height="20.4" fill="#4f81bd" shape-rendering="crispEdges"/>
<rect x="600.8" y="744.5" width="15.8" height="14.4" fill="#4f81bd" shape-rendering="crispEdges"/>
<rect x="640.0" y="715.5" width="15.8" height="29.0" fill="#4f81bd" shape-rendering="crispEdges"/>
<rect x="679.1" y="735.2" width="15.8" height="9.3" fill="#4f81bd" shape-rendering="crispEdges"/>
<rect x="718.3" y="736.5" width="15.8" height="8.0" fill="#4f81bd" shape-rendering="crispEdges"/>
<rect x="757.5" y="687.4" width="15.8" height="57.1" fill="#4f81bd" shape-rendering="crispEdges"/>
<rect x="796.6" y="720.9" width="15.8" height="23.6" fill="#4f81bd" shape-rendering="crispEdges"/>
<rect x="835.8" y="744.5" width="15.8" height="10.5" fill="#4f81bd" shape-rendering="crispEdges"/>
<rect x="875.0" y="743.2" width="15.8" height="1.3" fill="#4f81bd" shape-rendering="crispEdges"/>
<rect x="914.1" y="744.5" width="15.8" height="31.9" fill="#4f81bd" shape-rendering="crispEdges"/>
<rect x="953.3" y="744.5" width="15.8" height="4.1" fill="#4f81bd" shape-rendering="crispEdges"/>
<rect x="992.4" y="744.5" width="15.8" height="31.9" fill="#4f81bd" shape-rendering="crispEdges"/>
<rect x="1031.6" y="743.2" width="15.8" height="1.3" fill="#4f81bd" shape-rendering="crispEdges"/>
<rect x="1070.8" y="744.5" width="15.8" height="4.1" fill="#4f81bd" shape-rendering="crispEdges"/>
<rect x="1109.9" y="738.1" width="15.8" height="6.4" fill="#4f81bd" shape-rendering="crispEdges"/>
<rect x="1149.1" y="708.5" width="15.8" height="36.0" fill="#4f81bd" shape-rendering="crispEdges"/>
<rect x="1188.2" y="744.5" width="15.8" height="45.3" fill="#4f81bd" shape-rendering="crispEdges"/>
<rect x="1227.4" y="697.3" width="15.8" height="47.2" fill="#4f81bd" shape-rendering="crispEdges"/>
<rect x="1266.6" y="744.5" width="15.8" height="22.0" fill="#4f81bd" shape-rendering="crispEdges"/>
<rect x="1305.7" y="744.5" width="15.8" height="77.2" fill="#4f81bd" shape-rendering="crispEdges"/>
<rect x="1344.9" y="690.3" width="15.8" height="54.2" fill="#4f81bd" shape-rendering="crispEdges"/>
<rect x="1384.1" y="732.2" width="15.8" height="12.3" fill="#4f81bd" shape-rendering="crispEdges"/>
<rect x="1423.2" y="744.5" width="15.8" height="44.2" fill="#4f81bd" shape-rendering="crispEdges"/>
<rect x="1462.4" y="744.5" width="15.8" height="5.3" fill="#4f81bd" shape-rendering="crispEdges"/>
<rect x="1501.5" y="744.5" width="15.8" height="22.0" fill="#4f81bd" shape-rendering="crispEdges"/>
<rect x="1540.7" y="714.4" width="15.8" height="30.1" fill="#4f81bd" shape-rendering="crispEdges"/>
<rect x="1579.9" y="744.5" width="15.8" height="34.4" fill="#4f81bd" shape-rendering="crispEdges"/>
<rect x="1619.0" y="744.5" width="15.8" height="16.5" fill="#4f81bd" shape-rendering="crispEdges"/>
<text x="452.1" y="769.4" font-size="13.7" text-anchor="middle">1</text>
<text x="491.2" y="769.4" font-size="13.7" text-anchor="middle">2</text>
<text x="530.4" y="769.4" font-size="13.7" text-anchor="middle">3</text>
<text x="569.6" y="769.4" font-size="13.7" text-anchor="middle">4</text>
<text x="608.7" y="769.4" font-size="13.7" text-anchor="middle">5</text>
<text x="647.9" y="769.4" font-size="13.7" text-anchor="middle">6</text>
<text x="687.0" y="769.4" font-size="13.7" text-anchor="middle">7</text>
<text x="726.2" y="769.4" font-size="13.7" text-anchor="middle">8</text>
<text x="765.4" y="769.4" font-size="13.7" text-anchor="middle">9</text>
<text x="804.5" y="769.4" font-size="13.7" text-anchor="middle">10</text>
<text x="843.7" y="769.4" font-size="13.7" text-anchor="middle">11</text>
<text x="882.9" y="769.4" font-size="13.7" text-anchor="middle">12</text>
<text x="922.0" y="769.4" font-size="13.7" text-anchor="middle">13</text>
<text x="961.2" y="769.4" font-size="13.7" text-anchor="middle">14</text>
<text x="1000.3" y="769.4" font-size="13.7" text-anchor="middle">15</text>
<text x="1039.5" y="769.4" font-size="13.7" text-anchor="middle">16</text>
<text x="1078.7" y="769.4" font-size="13.7" text-anchor="middle">17</text>
<text x="1117.8" y="769.4" font-size="13.7" text-anchor="middle">18</text>
<text x="1157.0" y="769.4" font-size="13.7" text-anchor="middle">19</text>
<text x="1196.1" y="769.4" font-size="13.7" text-anchor="middle">20</text>
<text x="1235.3" y="769.4" font-size="13.7" text-anchor="middle">21</text>
<text x="1274.5" y="769.4" font-size="13.7" text-anchor="middle">22</text>
<text x="1313.6" y="769.4" font-size="13.7" text-anchor="middle">23</text>
<text x="1352.8" y="769.4" font-size="13.7" text-anchor="middle">24</text>
<text x="1392.0" y="769.4" font-size="13.7" text-anchor="middle">25</text>
<text x="1431.1" y="769.4" font-size="13.7" text-anchor="middle">26</text>
<text x="1470.3" y="769.4" font-size="13.7" text-anchor="middle">27</text>
<text x="1509.4" y="769.4" font-size="13.7" text-anchor="middle">28</text>
<text x="1548.6" y="769.4" font-size="13.7" text-anchor="middle">29</text>
<text x="1587.8" y="769.4" font-size="13.7" text-anchor="middle">30</text>
<text x="1626.9" y="769.4" font-size="13.7" text-anchor="middle">31</text>
<text x="417.5" y="653.2" font-size="13.2" text-anchor="end">3</text>
<text x="417.5" y="685.1" font-size="13.2" text-anchor="end">2</text>
<text x="417.5" y="717.0" font-size="13.2" text-anchor="end">1</text>
<text x="417.5" y="748.9" font-size="13.2" text-anchor="end">0</text>
<text x="417.5" y="780.8" font-size="13.2" text-anchor="end">-1</text>
<text x="417.5" y="812.7" font-size="13.2" text-anchor="end">-2</text>
<text x="417.5" y="844.6" font-size="13.2" text-anchor="end">-3</text>
<rect x="903" y="823" width="8.5" height="8" fill="#4f81bd"/>
<text x="915.8" y="832.2" font-size="14">Durchschnittliche Rendite nachTagen</text>
<rect x="11.5" y="431.5" width="366" height="323" fill="#fff" stroke="#868686" stroke-width="1"/>
<g stroke="#868686" stroke-width="1" shape-rendering="crispEdges">
<line x1="73.0" y1="484.5" x2="360.5" y2="484.5"/>
<line x1="73.0" y1="508.5" x2="360.5" y2="508.5"/>
<line x1="73.0" y1="531.5" x2="360.5" y2="531.5"/>
<line x1="73.0" y1="554.5" x2="360.5" y2="554.5"/>
<line x1="73.0" y1="578.5" x2="360.5" y2="578.5"/>
<line x1="73.0" y1="601.5" x2="360.5" y2="601.5"/>
<line x1="73.0" y1="624.5" x2="360.5" y2="624.5"/>
<line x1="73.0" y1="647.5" x2="360.5" y2="647.5"/>
<line x1="73.0" y1="671.5" x2="360.5" y2="671.5"/>
<line x1="77.5" y1="484.5" x2="77.5" y2="671.5"/>
<line x1="134.5" y1="578.5" x2="134.5" y2="583.0"/>
<line x1="190.5" y1="578.5" x2="190.5" y2="583.0"/>
<line x1="247.5" y1="578.5" x2="247.5" y2="583.0"/>
<line x1="303.5" y1="578.5" x2="303.5" y2="583.0"/>
<line x1="360.5" y1="578.5" x2="360.5" y2="583.0"/>
</g>
<text x="63.3" y="489.1" font-size="13.4" text-anchor="end">0,08%</text>
<text x="63.3" y="513.1" font-size="13.4" text-anchor="end">0,06%</text>
<text x="63.3" y="536.1" font-size="13.4" text-anchor="end">0,04%</text>
<text x="63.3" y="559.1" font-size="13.4" text-anchor="end">0,02%</text>
<text x="63.3" y="583.1" font-size="13.4" text-anchor="end">0,00%</text>
<text x="63.3" y="606.1" font-size="13.4" text-anchor="end">-0,02%</text>
<text x="63.3" y="629.1" font-size="13.4" text-anchor="end">-0,04%</text>
<text x="63.3" y="652.1" font-size="13.4" text-anchor="end">-0,06%</text>
<text x="63.3" y="676.1" font-size="13.4" text-anchor="end">-0,08%</text>
<rect x="90" y="579" width="16" height="3" fill="#4f81bd" shape-rendering="crispEdges"/>
<rect x="106" y="579" width="16" height="9" fill="#ff0000" shape-rendering="crispEdges"/>
<rect x="147" y="579" width="16" height="45" fill="#4f81bd" shape-rendering="crispEdges"/>
<rect x="163" y="528" width="16" height="50" fill="#ff0000" shape-rendering="crispEdges"/>
<rect x="203" y="579" width="16" height="20" fill="#4f81bd" shape-rendering="crispEdges"/>
<rect x="219" y="552" width="16" height="26" fill="#ff0000" shape-rendering="crispEdges"/>
<rect x="259" y="579" width="16" height="63" fill="#4f81bd" shape-rendering="crispEdges"/>
<rect x="275" y="575" width="16" height="3" fill="#ff0000" shape-rendering="crispEdges"/>
<rect x="316" y="579" width="16" height="22" fill="#4f81bd" shape-rendering="crispEdges"/>
<rect x="332" y="511" width="16" height="67" fill="#ff0000" shape-rendering="crispEdges"/>
<text transform="translate(109.8,692) rotate(-45)" font-size="13.9" text-anchor="end">Montag</text>
<text transform="translate(166.4,692) rotate(-45)" font-size="13.9" text-anchor="end">Dienstag</text>
<text transform="translate(223.0,692) rotate(-45)" font-size="13.9" text-anchor="end">Mittwoch</text>
<text transform="translate(279.6,692) rotate(-45)" font-size="13.9" text-anchor="end">Donnerstag</text>
<text transform="translate(336.2,692) rotate(-45)" font-size="13.9" text-anchor="end">Freitag</text>
<rect x="154" y="450.5" width="8" height="7.5" fill="#4f81bd"/>
<text x="166.4" y="459.4" font-size="14">Bulle</text>
<rect x="207" y="450.5" width="8.5" height="7.5" fill="#ff0000"/>
<text x="219.4" y="459.4" font-size="13.5">B&auml;r</text>
</svg>
</body></html>
